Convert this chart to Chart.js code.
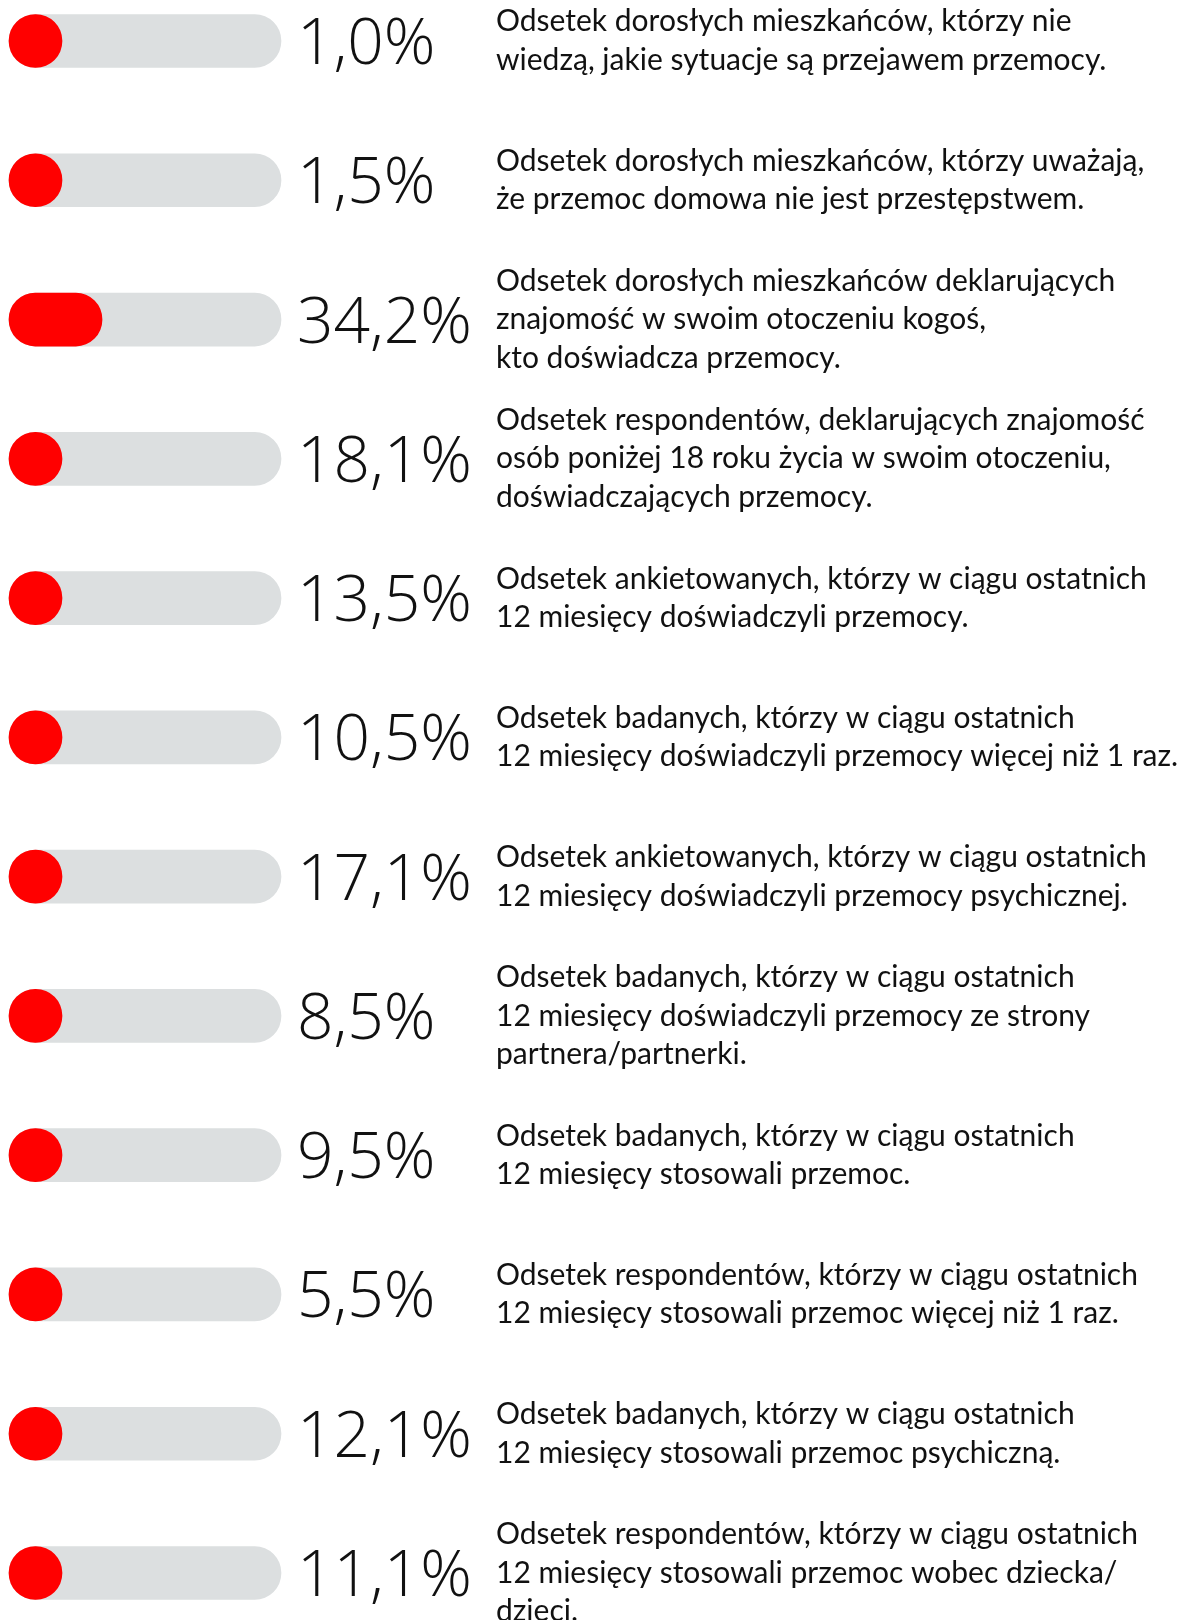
<!DOCTYPE html>
<html>
<head>
<meta charset="utf-8">
<script src="https://cdn.jsdelivr.net/npm/chart.js@4.4.1/dist/chart.umd.min.js"></script>
<style>
  html, body { margin: 0; padding: 0; background: #ffffff; }
  #wrap { width: 1187px; height: 1620px; }
</style>
</head>
<body>
<div id="wrap"><canvas id="chart" width="1187" height="1620"></canvas></div>
<script>
// rows, top to bottom
const rowKeys = ["r1", "r2", "r3", "r4", "r5", "r6", "r7", "r8", "r9", "r10", "r11", "r12"];
const values = [1.0, 1.5, 34.2, 18.1, 13.5, 10.5, 17.1, 8.5, 9.5, 5.5, 12.1, 11.1];
const trackMax = [100, 100, 100, 100, 100, 100, 100, 100, 100, 100, 100, 100];
const descriptions = [
    ["Odsetek dorosłych mieszkańców, którzy nie", "wiedzą, jakie sytuacje są przejawem przemocy."],
    ["Odsetek dorosłych mieszkańców, którzy uważają,", "że przemoc domowa nie jest przestępstwem."],
    ["Odsetek dorosłych mieszkańców deklarujących", "znajomość w swoim otoczeniu kogoś,", "kto doświadcza przemocy."],
    ["Odsetek respondentów, deklarujących znajomość", "osób poniżej 18 roku życia w swoim otoczeniu,", "doświadczających przemocy."],
    ["Odsetek ankietowanych, którzy w ciągu ostatnich", "12 miesięcy doświadczyli przemocy."],
    ["Odsetek badanych, którzy w ciągu ostatnich", "12 miesięcy doświadczyli przemocy więcej niż 1 raz."],
    ["Odsetek ankietowanych, którzy w ciągu ostatnich", "12 miesięcy doświadczyli przemocy psychicznej."],
    ["Odsetek badanych, którzy w ciągu ostatnich", "12 miesięcy doświadczyli przemocy ze strony", "partnera/partnerki."],
    ["Odsetek badanych, którzy w ciągu ostatnich", "12 miesięcy stosowali przemoc."],
    ["Odsetek respondentów, którzy w ciągu ostatnich", "12 miesięcy stosowali przemoc więcej niż 1 raz."],
    ["Odsetek badanych, którzy w ciągu ostatnich", "12 miesięcy stosowali przemoc psychiczną."],
    ["Odsetek respondentów, którzy w ciągu ostatnich", "12 miesięcy stosowali przemoc wobec dziecka/", "dzieci."]
];

function fmtPct(v) {
    return v.toFixed(1).replace(".", ",") + "%";
}

// percentages + description text next to each track
const rowText = {
    id: "rowText",
    afterDatasetsDraw(chart) {
        const ctx = chart.ctx;
        const x = chart.scales.x;
        const y = chart.scales.y;
        const pctX = x.getPixelForValue(100) + 16;
        const descX = 496;
        const lineH = 38.5;
        ctx.save();
        ctx.fillStyle = "#111111";
        rowKeys.forEach((k, i) => {
            const cy = y.getPixelForValue(i);
            ctx.font = "300 64px 'Open Sans'";
            ctx.textAlign = "left";
            ctx.textBaseline = "alphabetic";
            ctx.fillText(fmtPct(values[i]), pctX, cy + 23);

            const lines = descriptions[i];
            ctx.font = "400 30px Lato";
            ctx.textBaseline = "middle";
            const top = cy - (lines.length - 1) * lineH / 2;
            lines.forEach((t, j) => ctx.fillText(t, descX, top + j * lineH));
        });
        ctx.restore();
    }
};

const data = {
    labels: rowKeys,
    datasets: [{
        label: "value",
        data: values,
        backgroundColor: "#ff0000",
        borderRadius: 27,
        borderSkipped: false,
        barThickness: 53,
        minBarLength: 53,
        grouped: false,
        clip: false
    }, {
        label: "track",
        data: trackMax,
        backgroundColor: "#dcdfe0",
        borderRadius: 27,
        borderSkipped: false,
        barThickness: 53,
        grouped: false,
        clip: false
    }]
};

new Chart(document.getElementById("chart"), {
    type: "bar",
    data,
    plugins: [rowText],
    options: {
        indexAxis: "y",
        responsive: false,
        animation: false,
        devicePixelRatio: 1,
        layout: {
            padding: { left: 9, right: 906, top: 41, bottom: 47 }
        },
        plugins: {
            legend: { display: false },
            tooltip: { enabled: false }
        },
        scales: {
            x: { display: false, min: 0, max: 100 },
            y: { display: false, offset: false, grid: { display: false } }
        }
    }
});
</script>
</body>
</html>
